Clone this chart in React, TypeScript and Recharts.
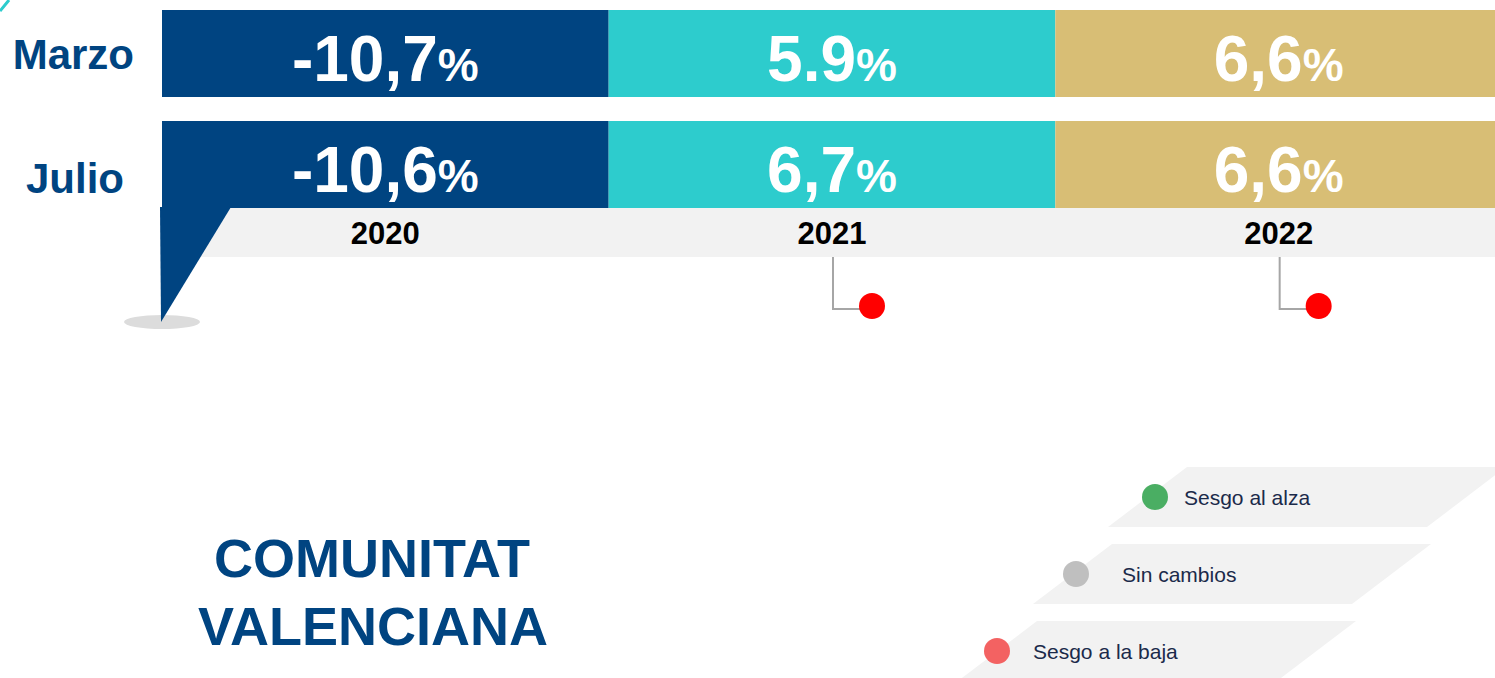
import React from 'react'
import { BarChart, Bar, XAxis, YAxis, LabelList } from 'recharts'

// revisiones de la previsión de crecimiento del PIB
const periods = ['Marzo', 'Julio']
const years = ['2020', '2021', '2022']
const marzo = [-10.7, 5.9, 6.6]
const julio = [-10.6, 6.7, 6.6]
// el original mezcla coma y punto decimal
const marzoSep = [',', '.', ',']
const julioSep = [',', ',', ',']
// sesgo de la última revisión por año
const sesgo = ['', 'baja', 'baja']

const legendLabels = ['Sesgo al alza', 'Sin cambios', 'Sesgo a la baja']
const legendKeys = ['alza', 'igual', 'baja']

const BLUE = '#004481'
const yearColors = ['#004481', '#2dcccd', '#d8be75']
const legendColors: Record<string, string> = { alza: '#4aae63', igual: '#bfbfbf', baja: '#f36262' }
const FONT = '"Liberation Sans", Arial, sans-serif'

const W = 1495
const H = 678
const CHART_W = 1502
const AXIS_W = 162
const SEG_W = (CHART_W - AXIS_W) / years.length

function fmt(v: number, sep: string) {
  return v.toFixed(1).replace('.', sep)
}

const rows = periods.map((period, r) => {
  const vals = r === 0 ? marzo : julio
  const seps = r === 0 ? marzoSep : julioSep
  const row: Record<string, string | number> = { period }
  years.forEach((_, i) => {
    row['y' + i] = 1
    row['v' + i] = fmt(vals[i], seps[i])
  })
  return row
})

function ValueLabel(props: any) {
  const vb = props.viewBox && props.viewBox.width != null ? props.viewBox : props
  const { x, y, width, height } = vb
  return (
    <text
      x={x + width / 2}
      y={y + height / 2 + 27}
      textAnchor="middle"
      fill="#fff"
      fontFamily={FONT}
      fontWeight="bold"
    >
      <tspan fontSize={64}>{props.value}</tspan>
      <tspan fontSize={46}>%</tspan>
    </text>
  )
}

const tickShift = [
  { dx: -28, dy: 15 },
  { dx: -38, dy: 28 },
]

function PeriodTick(props: any) {
  const { x, y, payload, index } = props
  const s = tickShift[index] || tickShift[0]
  return (
    <text
      x={x + s.dx}
      y={y + s.dy}
      textAnchor="end"
      fill={BLUE}
      fontFamily={FONT}
      fontWeight="bold"
      fontSize={42}
    >
      {payload.value}
    </text>
  )
}

// sangría del texto de cada fila de la leyenda
const legendIndent = [-3, 10, -4]

function Decor() {
  const plotLeft = AXIS_W
  return (
    <svg width={W} height={H} style={{ position: 'absolute', left: 0, top: 0 }}>
      <path d="M 0 11 Q 5 5 9 0" stroke="#2dcccd" strokeWidth={3} fill="none" />
      <rect x={161} y={208} width={W - 161} height={49} fill="#f2f2f2" />
      <ellipse cx={162} cy={322} rx={38} ry={7} fill="#dcdcdc" />
      <polygon points="160,207 231,207 161,322" fill={BLUE} />
      {sesgo.map((s, i) => {
        if (!s) return null
        const cx = plotLeft + (i + 0.5) * SEG_W + 1
        return (
          <g key={i}>
            <polyline
              points={`${cx},257 ${cx},309 ${cx + 28},309`}
              stroke="#a6a6a6"
              strokeWidth={2}
              fill="none"
            />
            <circle cx={cx + 39} cy={306} r={13} fill="#ff0000" />
          </g>
        )
      })}
      <text x={372} y={577} textAnchor="middle" fill={BLUE} fontFamily={FONT} fontWeight="bold" fontSize={54}>
        COMUNITAT
      </text>
      <text x={373} y={645} textAnchor="middle" fill={BLUE} fontFamily={FONT} fontWeight="bold" fontSize={54}>
        VALENCIANA
      </text>
      {legendLabels.map((label, i) => {
        const tx = 1187 - i * 75
        const ty = 467 + i * 77
        const h = 60
        return (
          <g key={label}>
            <polygon
              points={`${tx},${ty} ${tx + 319},${ty} ${tx + 240},${ty + h} ${tx - 79},${ty + h}`}
              fill="#f2f2f2"
            />
            <circle cx={1155 - i * 79} cy={ty + 30} r={13} fill={legendColors[legendKeys[i]]} />
            <text x={tx + legendIndent[i]} y={ty + 38} fill="#1b2a4a" fontFamily={FONT} fontSize={21}>
              {label}
            </text>
          </g>
        )
      })}
    </svg>
  )
}

export default function App() {
  return (
    <div
      style={{
        position: 'absolute',
        left: 0,
        top: 0,
        width: W,
        height: H,
        overflow: 'hidden',
        background: '#fff',
      }}
    >
      <Decor />
      <div style={{ position: 'absolute', left: 0, top: -2 }}>
        <BarChart
          layout="vertical"
          width={CHART_W}
          height={262}
          data={rows}
          margin={{ top: 0, right: 0, bottom: 0, left: 0 }}
        >
          <XAxis
            type="number"
            domain={[0, years.length]}
            ticks={years.map((_, i) => i + 0.5)}
            tickFormatter={(v: number) => years[Math.floor(v)]}
            axisLine={false}
            tickLine={false}
            tickSize={0}
            tickMargin={2}
            height={40}
            tick={{ fill: '#000', fontSize: 31, fontWeight: 'bold', fontFamily: FONT }}
          />
          <YAxis
            type="category"
            dataKey="period"
            width={AXIS_W}
            axisLine={false}
            tickLine={false}
            tickSize={0}
            tickMargin={0}
            tick={<PeriodTick />}
          />
          {years.map((yr, i) => (
            <Bar
              key={yr}
              dataKey={'y' + i}
              stackId="s"
              fill={yearColors[i]}
              barSize={87}
              isAnimationActive={false}
            >
              <LabelList dataKey={'v' + i} content={<ValueLabel />} />
            </Bar>
          ))}
        </BarChart>
      </div>
    </div>
  )
}
